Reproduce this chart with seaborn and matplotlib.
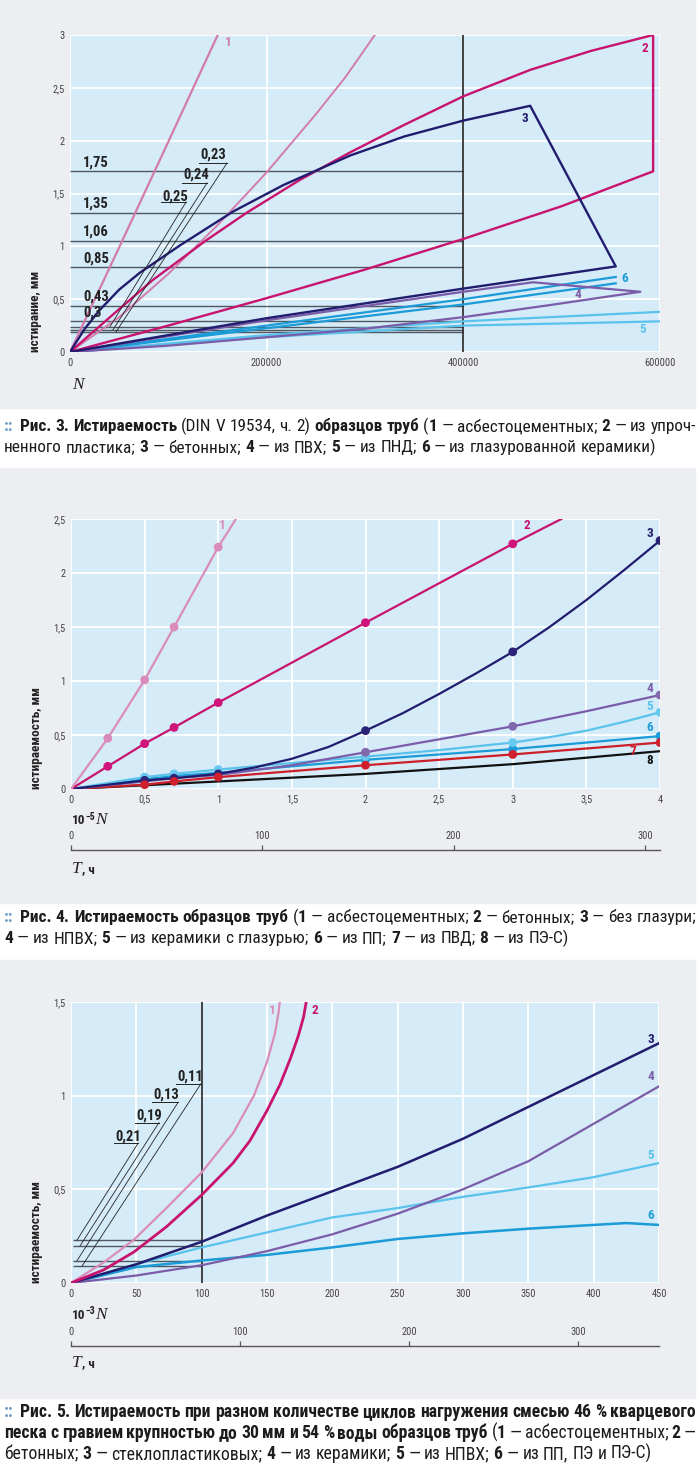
import re
import matplotlib
matplotlib.use('Agg')
import matplotlib.pyplot as plt
import seaborn as sns
from matplotlib import font_manager as fm
from matplotlib.patches import Rectangle

# ================= DATA =================
# ---- Рис. 3 (x: N, y: истирание, мм)
p1_c1_n = [0, 50500, 100500, 150200]
p1_c1_v = [0, 1.0, 2.0, 3.0]
p1_c1b_n = [0, 50000, 100000, 150000, 200000, 250000, 280000, 310000]
p1_c1b_v = [0, 0.33, 0.74, 1.20, 1.70, 2.25, 2.60, 3.0]
p1_c2_n = [0, 40700, 84000, 139000, 180000, 234000, 285000, 340000, 400000, 468000, 530000, 593000,
           593000, 500000, 400000, 300000, 200000, 100000, 0]
p1_c2_v = [0, 0.33, 0.68, 1.06, 1.32, 1.63, 1.89, 2.15, 2.42, 2.67, 2.85, 3.0,
           1.71, 1.38, 1.07, 0.78, 0.51, 0.25, 0]
p1_c3_n = [0, 15000, 30500, 50000, 71000, 112000, 166000, 217000, 285000, 340000, 400000, 468000,
           555000, 400000, 200000, 0]
p1_c3_v = [0, 0.22, 0.40, 0.59, 0.75, 1.01, 1.33, 1.58, 1.86, 2.04, 2.19, 2.33,
           0.81, 0.60, 0.32, 0]
p1_c4_n = [0, 200000, 400000, 471000, 580000, 485000, 400000, 300000, 200000, 100000, 0]
p1_c4_v = [0, 0.30, 0.57, 0.66, 0.57, 0.44, 0.33, 0.22, 0.14, 0.06, 0]
p1_c5_n = [0, 200000, 400000, 600000]
p1_c5a_v = [0, 0.16, 0.29, 0.38]
p1_c5b_v = [0, 0.14, 0.25, 0.29]
p1_c6_n = [0, 400000, 555000]
p1_c6a_v = [0, 0.50, 0.71]
p1_c6b_v = [0, 0.45, 0.65]
p1_hline_v = [1.71, 1.32, 1.05, 0.80, 0.44, 0.29, 0.24, 0.21, 0.19]
p1_hline_lab = ['1,75', '1,35', '1,06', '0,85', '0,43', '0,3']
p1_lead_lab = ['0,25', '0,24', '0,23']
p1_vline = 400000
p1_xticks = [0, 200000, 400000, 600000]
p1_xlabels = ['0', '200000', '400000', '600000']
p1_yticks = [0, 0.5, 1, 1.5, 2, 2.5, 3]
p1_ylabels = ['0', '0,5', '1', '1,5', '2', '2,5', '3']

# ---- Рис. 4 (x: 10^-5 N)
p2_c1_x = [0, 0.25, 0.5, 0.7, 1.0, 1.12]
p2_c1_y = [0, 0.47, 1.01, 1.50, 2.24, 2.50]
p2_c1_mx = [0.25, 0.5, 0.7, 1.0]
p2_c1_my = [0.47, 1.01, 1.50, 2.24]
p2_c2_x = [0, 0.25, 0.5, 0.7, 1.0, 2.0, 3.0, 3.33]
p2_c2_y = [0, 0.21, 0.42, 0.57, 0.80, 1.54, 2.27, 2.50]
p2_c2_mx = [0.25, 0.5, 0.7, 1.0, 2.0, 3.0]
p2_c2_my = [0.21, 0.42, 0.57, 0.80, 1.54, 2.27]
p2_c3_x = [0, 0.5, 0.7, 1.0, 1.25, 1.5, 1.75, 2.0, 2.25, 2.5, 2.75, 3.0, 3.25, 3.5, 3.75, 4.0]
p2_c3_y = [0, 0.08, 0.10, 0.14, 0.20, 0.28, 0.39, 0.54, 0.70, 0.88, 1.07, 1.27, 1.50, 1.75, 2.02, 2.30]
p2_c3_mx = [0.5, 0.7, 1.0, 2.0, 3.0, 4.0]
p2_c3_my = [0.08, 0.10, 0.14, 0.54, 1.27, 2.30]
p2_c4_x = [0, 0.5, 0.7, 1.0, 1.5, 2.0, 2.5, 3.0, 3.5, 4.0]
p2_c4_y = [0, 0.07, 0.10, 0.13, 0.22, 0.34, 0.46, 0.58, 0.72, 0.87]
p2_c4_mx = [2.0, 3.0, 4.0]
p2_c4_my = [0.34, 0.58, 0.87]
p2_c5_x = [0, 0.5, 0.7, 1.0, 2.0, 2.5, 3.0, 3.25, 3.5, 3.75, 4.0]
p2_c5_y = [0, 0.11, 0.14, 0.18, 0.30, 0.36, 0.43, 0.48, 0.54, 0.62, 0.71]
p2_c5_mx = [0.5, 0.7, 1.0, 2.0, 3.0, 4.0]
p2_c5_my = [0.11, 0.14, 0.18, 0.30, 0.43, 0.71]
p2_c6_x = [0, 0.5, 0.7, 1.0, 2.0, 3.0, 4.0]
p2_c6_y = [0, 0.09, 0.12, 0.15, 0.27, 0.37, 0.49]
p2_c6_mx = [2.0, 3.0, 4.0]
p2_c6_my = [0.27, 0.37, 0.49]
p2_c7_x = [0, 0.5, 0.7, 1.0, 2.0, 3.0, 4.0]
p2_c7_y = [0, 0.04, 0.07, 0.11, 0.22, 0.32, 0.43]
p2_c7_mx = [0.5, 0.7, 1.0, 2.0, 3.0, 4.0]
p2_c7_my = [0.04, 0.07, 0.11, 0.22, 0.32, 0.43]
p2_c8_x = [0, 1, 2, 3, 4]
p2_c8_y = [0, 0.07, 0.14, 0.23, 0.35]
p2_xticks = [0, 0.5, 1, 1.5, 2, 2.5, 3, 3.5, 4]
p2_xlabels = ['0', '0,5', '1', '1,5', '2', '2,5', '3', '3,5', '4']
p2_yticks = [0, 0.5, 1, 1.5, 2, 2.5]
p2_ylabels = ['0', '0,5', '1', '1,5', '2', '2,5']
p2_tticks = [0, 100, 200, 300]
p2_tmax = 307.8

# ---- Рис. 5 (x: 10^-3 N)
p3_c1_x = [0, 25, 48, 73, 100, 124, 140, 150, 156, 159, 160.5]
p3_c1_y = [0, 0.11, 0.23, 0.40, 0.59, 0.80, 1.00, 1.18, 1.33, 1.45, 1.55]
p3_c2_x = [0, 25, 48, 73, 100, 124, 137, 150, 160, 168, 174, 178, 180.5, 181.2]
p3_c2_y = [0, 0.07, 0.165, 0.30, 0.47, 0.64, 0.76, 0.92, 1.06, 1.20, 1.32, 1.42, 1.52, 1.55]
p3_c3_x = [0, 50, 100, 150, 200, 250, 300, 350, 400, 450]
p3_c3_y = [0, 0.10, 0.22, 0.36, 0.49, 0.62, 0.77, 0.94, 1.11, 1.28]
p3_c4_x = [0, 50, 100, 150, 200, 250, 300, 350, 400, 450]
p3_c4_y = [0, 0.04, 0.095, 0.17, 0.26, 0.37, 0.50, 0.65, 0.85, 1.05]
p3_c5_x = [0, 50, 100, 150, 200, 250, 300, 350, 400, 450]
p3_c5_y = [0, 0.10, 0.19, 0.27, 0.35, 0.40, 0.46, 0.51, 0.565, 0.64]
p3_c6_x = [0, 50, 100, 150, 200, 250, 300, 350, 400, 425, 450]
p3_c6_y = [0, 0.085, 0.12, 0.15, 0.19, 0.235, 0.265, 0.29, 0.31, 0.32, 0.31]
p3_hline_v = [0.229, 0.198, 0.119, 0.09]
p3_lead_lab = ['0,21', '0,19', '0,13', '0,11']
p3_vline = 100
p3_xticks = [0, 50, 100, 150, 200, 250, 300, 350, 400, 450]
p3_xlabels = [str(t) for t in p3_xticks]
p3_yticks = [0, 0.5, 1, 1.5]
p3_ylabels = ['0', '0,5', '1', '1,5']
p3_tticks = [0, 100, 200, 300]
p3_tmax = 348

# ================= STYLE =================
avail = {f.name for f in fm.fontManager.ttflist}
cond = None
for cand in ['Roboto Condensed', 'Liberation Sans Narrow', 'DejaVu Sans Condensed',
             'Noto Sans Condensed', 'Open Sans Condensed']:
    if cand in avail:
        cond = cand
        break
stretch = 'normal'
if cond is None:
    dv = [f for f in fm.fontManager.ttflist
          if f.name == 'DejaVu Sans' and str(f.stretch) in ('condensed', 'semi-condensed')]
    if dv:
        cond, stretch = 'DejaVu Sans', 'condensed'
    else:
        cond = 'Roboto'
plt.rcParams['font.family'] = [cond, 'DejaVu Sans']
plt.rcParams['font.stretch'] = stretch
SERIF = 'Liberation Serif'

W, H = 700, 1471
BG_GRAY = '#eceef2'
PLOT_BG = '#d5ebf8'
C_PINK = '#d27cae'
C_PINK_M = '#da8dbb'
C_MAG = '#c8136f'
C_NAVY = '#221c6e'
C_PURP = '#7b5ca8'
C_LBLUE = '#5ac3ec'
C_BLUE = '#1b9bd7'
C_RED = '#cc1f2a'
C_BLK = '#111111'
C_HL = '#4f5862'

fig = plt.figure(figsize=(W / 100, H / 100), dpi=100)
fig.patch.set_facecolor('white')

for (y0, y1) in [(0, 408), (468, 903), (960, 1398)]:
    fig.patches.append(Rectangle((0, 1 - y1 / H), 695 / W, (y1 - y0) / H,
                                 transform=fig.transFigure, color=BG_GRAY, zorder=-10))


def add_ax(x0, y0, x1, y1):
    a = fig.add_axes([x0 / W, 1 - y1 / H, (x1 - x0) / W, (y1 - y0) / H])
    a.set_facecolor(PLOT_BG)
    for s in a.spines.values():
        s.set_visible(False)
    a.grid(True, color='white', lw=1.3)
    a.set_axisbelow(True)
    a.tick_params(length=0, labelsize=7.5, labelcolor='#444', pad=4)
    return a


def curve(a, x, y, color, lw=1.6, z=3):
    sns.lineplot(x=x, y=y, ax=a, color=color, linewidth=lw, estimator=None,
                 sort=False, legend=False, zorder=z)


def dots(a, x, y, color, z=5):
    sns.scatterplot(x=x, y=y, ax=a, color=color, s=40, edgecolor='none',
                    legend=False, zorder=z)


def finish(a, xlim, ylim, xt, xl, yt, yl, ylabel):
    a.set_xlim(*xlim)
    a.set_ylim(*ylim)
    a.set_xticks(xt, xl)
    a.set_yticks(yt, yl)
    a.set_xlabel('')
    a.set_ylabel(ylabel, fontsize=9.5, fontweight='bold', color='#222')
    a.yaxis.set_label_coords(-0.047, 0)
    a.yaxis.label.set_horizontalalignment('left')


def t_axis(x0, x1, y, tmax, ticks):
    t = fig.add_axes([x0 / W, 1 - y / H, (x1 - x0) / W, 0.0001])
    t.set_xlim(0, tmax)
    t.patch.set_visible(False)
    for s in ['left', 'right', 'bottom']:
        t.spines[s].set_visible(False)
    t.spines['top'].set_color('#555')
    t.spines['top'].set_linewidth(1.0)
    t.set_yticks([])
    t.xaxis.tick_top()
    t.set_xticks(ticks, [str(v) for v in ticks])
    t.tick_params(axis='x', direction='out', length=3.5, width=0.9, color='#555',
                  pad=3, labelsize=7.5, labelcolor='#444')
    return t


renderer = fig.canvas.get_renderer()


def text_w(s, **kw):
    t = fig.text(0, 0, s, **kw)
    w = t.get_window_extent(renderer).width
    t.remove()
    return w


def seq_text(x, y, pieces):
    for s, kw, dy in pieces:
        fig.text(x / W, 1 - (y + dy) / H, s, ha='left', va='baseline', **kw)
        x += text_w(s, **kw)


def num_lab(a, x, y, s, color, size=9.5):
    a.text(x, y, s, color=color, fontsize=size, fontweight='bold', ha='center',
           va='center', zorder=8)


LAB = dict(fontsize=10.5, fontweight='bold', color='#222')

# ================= PANEL 1 =================
ax1 = add_ax(70, 35, 660, 352)
ax1.hlines(p1_hline_v, 0, p1_vline, color=C_HL, lw=1.0, zorder=2)
ax1.axvline(p1_vline, color='#222', lw=1.2, zorder=2.5)
curve(ax1, p1_c5_n, p1_c5a_v, C_LBLUE)
curve(ax1, p1_c5_n, p1_c5b_v, C_LBLUE)
curve(ax1, p1_c6_n, p1_c6a_v, C_BLUE)
curve(ax1, p1_c6_n, p1_c6b_v, C_BLUE)
curve(ax1, p1_c4_n, p1_c4_v, C_PURP)
curve(ax1, p1_c1b_n, p1_c1b_v, C_PINK, lw=1.4)
curve(ax1, p1_c1_n, p1_c1_v, C_PINK)
curve(ax1, p1_c2_n, p1_c2_v, C_MAG, lw=1.7)
curve(ax1, p1_c3_n, p1_c3_v, C_NAVY, lw=1.7)
for v, lab in zip(p1_hline_v, p1_hline_lab):
    ax1.annotate(lab, (13200, v), xytext=(0, 1.5), textcoords='offset points',
                 ha='left', va='bottom', zorder=9, **LAB)
p1_lead_geom = [(93560, 1.476, 118000, 1.419, 40680, 0.24),
                (114900, 1.675, 139300, 1.599, 43700, 0.21),
                (132200, 1.873, 159700, 1.788, 46780, 0.19)]
for lab, (xl, yl, xr, yu, xe, ye) in zip(p1_lead_lab, p1_lead_geom):
    ax1.plot([xl - 1000, xr], [yu, yu], color='#222', lw=0.7, zorder=7)
    ax1.plot([xr, xe], [yu, ye], color='#222', lw=0.6, zorder=7)
    ax1.text(xl, yl, lab, ha='left', va='center', zorder=9, **LAB)
num_lab(ax1, 160700, 2.93, '1', C_PINK)
num_lab(ax1, 584700, 2.876, '2', C_MAG)
num_lab(ax1, 462700, 2.21, '3', C_NAVY)
num_lab(ax1, 516600, 0.54, '4', C_PURP)
num_lab(ax1, 582700, 0.21, '5', C_LBLUE)
num_lab(ax1, 564400, 0.70, '6', C_BLUE)
finish(ax1, (0, 600000), (0, 3), p1_xticks, p1_xlabels, p1_yticks, p1_ylabels,
       'истирание, мм')
seq_text(72, 389, [('N', dict(family=SERIF, style='italic', fontsize=12.5, color='#222'), 0)])

# ================= PANEL 2 =================
ax2 = add_ax(71, 519, 660, 789)
curve(ax2, p2_c8_x, p2_c8_y, C_BLK)
curve(ax2, p2_c7_x, p2_c7_y, C_RED)
curve(ax2, p2_c6_x, p2_c6_y, C_BLUE)
curve(ax2, p2_c5_x, p2_c5_y, C_LBLUE)
curve(ax2, p2_c4_x, p2_c4_y, C_PURP)
curve(ax2, p2_c3_x, p2_c3_y, C_NAVY)
curve(ax2, p2_c2_x, p2_c2_y, C_MAG)
curve(ax2, p2_c1_x, p2_c1_y, C_PINK_M)
dots(ax2, p2_c6_mx, p2_c6_my, C_BLUE)
dots(ax2, p2_c5_mx, p2_c5_my, '#68c9f0')
dots(ax2, p2_c4_mx, p2_c4_my, '#8068ad')
dots(ax2, p2_c3_mx, p2_c3_my, '#2a2378')
dots(ax2, p2_c7_mx, p2_c7_my, '#d0202d')
dots(ax2, p2_c2_mx, p2_c2_my, '#d0157a')
dots(ax2, p2_c1_mx, p2_c1_my, '#d98cbb')
num_lab(ax2, 1.025, 2.44, '1', C_PINK_M)
num_lab(ax2, 3.096, 2.44, '2', C_MAG)
num_lab(ax2, 3.93, 2.37, '3', C_NAVY)
num_lab(ax2, 3.93, 0.935, '4', C_PURP)
num_lab(ax2, 3.93, 0.76, '5', C_LBLUE)
num_lab(ax2, 3.93, 0.565, '6', C_BLUE)
num_lab(ax2, 3.815, 0.343, '7', C_RED)
num_lab(ax2, 3.93, 0.26, '8', C_BLK)
finish(ax2, (0, 4), (0, 2.5), p2_xticks, p2_xlabels, p2_yticks, p2_ylabels,
       'истираемость, мм')
t_axis(71, 660, 850, p2_tmax, p2_tticks)
seq_text(72, 824, [('10', dict(fontsize=9.5, fontweight='bold', color='#222'), 0),
                   ('−5', dict(fontsize=7, fontweight='bold', color='#222'), -4.5),
                   ('N', dict(family=SERIF, style='italic', fontsize=12.5, color='#222'), 0)])
seq_text(72, 873, [('T', dict(family=SERIF, style='italic', fontsize=12.5, color='#222'), 0),
                   (', ч', dict(fontsize=9.5, fontweight='bold', color='#222'), 0)])

# ================= PANEL 3 =================
ax3 = add_ax(71, 1002, 659, 1283)
ax3.hlines(p3_hline_v, 1.5, p3_vline, color=C_HL, lw=1.0, zorder=2)
ax3.axvline(p3_vline, color='#222', lw=1.2, zorder=2.5)
curve(ax3, p3_c6_x, p3_c6_y, C_BLUE, lw=1.8)
curve(ax3, p3_c5_x, p3_c5_y, C_LBLUE)
curve(ax3, p3_c4_x, p3_c4_y, C_PURP)
curve(ax3, p3_c3_x, p3_c3_y, C_NAVY, lw=1.8)
curve(ax3, p3_c1_x, p3_c1_y, C_PINK_M, lw=1.6)
curve(ax3, p3_c2_x, p3_c2_y, C_MAG, lw=2.0)
p3_lead_geom = [(33.7, 0.782, 51.3, 0.746, 4.6, 0.229),
                (49.7, 0.894, 67.3, 0.856, 6.9, 0.198),
                (62.8, 1.005, 81.9, 0.964, 4.6, 0.119),
                (81.1, 1.101, 99.5, 1.064, 8.4, 0.09)]
for lab, (xl, yl, xr, yu, xe, ye) in zip(p3_lead_lab, p3_lead_geom):
    ax3.plot([xl - 0.5, xr], [yu, yu], color='#222', lw=0.7, zorder=7)
    ax3.plot([xr, xe], [yu, ye], color='#222', lw=0.6, zorder=7)
    ax3.text(xl, yl, lab, ha='left', va='center', zorder=9, **LAB)
num_lab(ax3, 153.8, 1.452, '1', C_PINK_M)
num_lab(ax3, 186.7, 1.452, '2', C_MAG)
num_lab(ax3, 444, 1.30, '3', C_NAVY)
num_lab(ax3, 444, 1.10, '4', C_PURP)
num_lab(ax3, 444, 0.68, '5', C_LBLUE)
num_lab(ax3, 444, 0.36, '6', C_BLUE)
finish(ax3, (0, 450), (0, 1.5), p3_xticks, p3_xlabels, p3_yticks, p3_ylabels,
       'истираемость, мм')
t_axis(71, 659, 1346, p3_tmax, p3_tticks)
seq_text(72, 1319, [('10', dict(fontsize=9.5, fontweight='bold', color='#222'), 0),
                    ('−3', dict(fontsize=7, fontweight='bold', color='#222'), -4.5),
                    ('N', dict(family=SERIF, style='italic', fontsize=12.5, color='#222'), 0)])
seq_text(72, 1367, [('T', dict(family=SERIF, style='italic', fontsize=12.5, color='#222'), 0),
                    (', ч', dict(fontsize=9.5, fontweight='bold', color='#222'), 0)])

# ================= CAPTIONS =================
B, R = True, False
cap1 = [
    [('Рис. 3. Истираемость', B), (' (DIN V 19534, ч. 2) ', R), ('образцов труб', B),
     (' (', R), ('1', B), (' — асбестоцементных; ', R), ('2', B), (' — из упроч-', R)],
    [('ненного пластика; ', R), ('3', B), (' — бетонных; ', R), ('4', B), (' — из ПВХ; ', R),
     ('5', B), (' — из ПНД; ', R), ('6', B), (' — из глазурованной керамики)', R)],
]
cap2 = [
    [('Рис. 4. Истираемость образцов труб', B), (' (', R), ('1', B), (' — асбестоцементных; ', R),
     ('2', B), (' — бетонных; ', R), ('3', B), (' — без глазури;', R)],
    [('4', B), (' — из НПВХ; ', R), ('5', B), (' — из керамики с глазурью; ', R), ('6', B),
     (' — из ПП; ', R), ('7', B), (' — из ПВД; ', R), ('8', B), (' — из ПЭ-С)', R)],
]
cap3 = [
    [('Рис. 5. Истираемость при разном количестве циклов нагружения смесью 46 % кварцевого', B)],
    [('песка с гравием крупностью до 30 мм и 54 % воды образцов труб', B), (' (', R), ('1', B),
     (' — асбестоцементных; ', R), ('2', B), (' —', R)],
    [('бетонных; ', R), ('3', B), (' — стеклопластиковых; ', R), ('4', B), (' — из керамики; ', R),
     ('5', B), (' — из НПВХ; ', R), ('6', B), (' — из ПП, ПЭ и ПЭ-С)', R)],
]


def tokens(segs):
    out = []
    for txt, b in segs:
        for part in re.split(r'(\s+)', txt):
            if part == '':
                continue
            if part.isspace():
                if out and out[-1][0] == 'sp':
                    continue
                out.append(('sp', None, None))
            else:
                out.append(('w', part, b))
    return out


def kw_for(size, bold):
    return dict(fontsize=size, fontweight='bold' if bold else 'normal', color='#1c1c1c')


def space_w(size):
    return text_w('a a', **kw_for(size, False)) - text_w('aa', **kw_for(size, False))


MARK = '::'


def line_natural(toks, size, prefix):
    w = 0
    if prefix:
        w += text_w(MARK, **kw_for(size, True)) + 1.6 * space_w(size)
    sp = space_w(size)
    for t in toks:
        w += text_w(t[1], **kw_for(size, t[2])) if t[0] == 'w' else sp
    return w


def draw_caption(lines, ys, justify, x0=4, x1=696):
    target = x1 - x0
    toks = [tokens(l) for l in lines]
    base = 10.0
    size = base * target / line_natural(toks[0], base, True)
    sp = space_w(size)
    for i, (tk, y) in enumerate(zip(toks, ys)):
        x = x0
        if i == 0:
            fig.text(x / W, 1 - y / H, MARK, ha='left', va='baseline',
                     fontsize=size, fontweight='bold', color='#6f98c0')
            x += text_w(MARK, **kw_for(size, True)) + 1.6 * sp
        gap = sp
        if justify[i]:
            nat = line_natural(tk, size, i == 0)
            nsp = sum(1 for t in tk if t[0] == 'sp')
            if nsp:
                gap = sp + (target - nat) / nsp
        for t in tk:
            if t[0] == 'sp':
                x += gap
            else:
                kw = kw_for(size, t[2])
                fig.text(x / W, 1 - y / H, t[1], ha='left', va='baseline', **kw)
                x += text_w(t[1], **kw)


draw_caption(cap1, [431, 452], [True, False])
draw_caption(cap2, [922, 943], [True, False])
draw_caption(cap3, [1417, 1438, 1459], [True, True, False])

fig.savefig('out.png', dpi=100, facecolor='white')
